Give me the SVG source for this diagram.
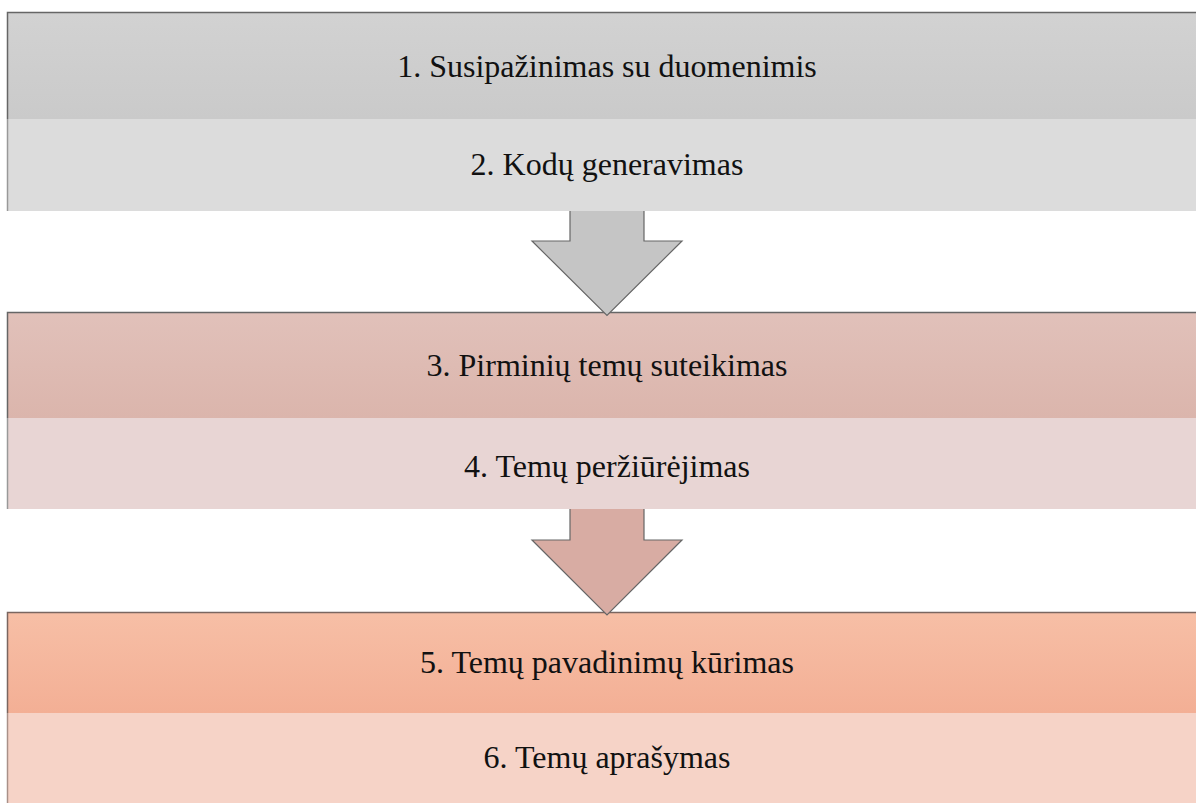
<svg xmlns="http://www.w3.org/2000/svg" width="1196" height="803" viewBox="0 0 1196 803">
<defs>
<linearGradient id="g1" x1="0" y1="0" x2="0" y2="1"><stop offset="0" stop-color="#d2d2d2"/><stop offset="1" stop-color="#cacaca"/></linearGradient>
<linearGradient id="g3" x1="0" y1="0" x2="0" y2="1"><stop offset="0" stop-color="#e1c1ba"/><stop offset="1" stop-color="#dbb5ac"/></linearGradient>
<linearGradient id="g5" x1="0" y1="0" x2="0" y2="1"><stop offset="0" stop-color="#f7bfa6"/><stop offset="1" stop-color="#f3af95"/></linearGradient>
</defs>
<style>
text{font-family:"Liberation Serif","Times New Roman",serif;font-size:32px;fill:#111;text-anchor:middle}
.edge{stroke:#666;stroke-width:1.5;fill:none}
.edgeL{stroke:#999;stroke-width:1.5;fill:none}
.arrow{stroke:#666;stroke-width:1.2;stroke-linejoin:miter}
</style>
<rect width="1196" height="803" fill="#fff"/>
<g id="node1">
<rect x="7" y="12" width="1189" height="107" fill="url(#g1)"/>
<path class="edge" d="M7.5,119 V12.5 H1196"/>
<text x="607" y="77">1. Susipažinimas su duomenimis</text>
</g>
<g id="node2">
<rect x="7" y="119" width="1189" height="92" fill="#dcdcdc"/>
<path class="edgeL" d="M7.5,119 V211"/>
<text x="607" y="175">2. Kodų generavimas</text>
</g>
<g id="node3">
<rect x="7" y="312" width="1189" height="106" fill="url(#g3)"/>
<path class="edge" d="M7.5,418 V312.5 H1196"/>
<text x="607" y="376">3. Pirminių temų suteikimas</text>
</g>
<g id="node4">
<rect x="7" y="418" width="1189" height="91" fill="#e8d5d4"/>
<path class="edgeL" d="M7.5,418 V509"/>
<text x="607" y="477">4. Temų peržiūrėjimas</text>
</g>
<g id="node5">
<rect x="7" y="612" width="1189" height="101" fill="url(#g5)"/>
<path class="edge" d="M7.5,713 V612.5 H1196" style="stroke:#7a6660"/>
<text x="607" y="673">5. Temų pavadinimų kūrimas</text>
</g>
<g id="node6">
<rect x="7" y="713" width="1189" height="90" fill="#f6d3c7"/>
<path class="edgeL" d="M7.5,713 V803" style="stroke:#a89088"/>
<text x="607" y="768">6. Temų aprašymas</text>
</g>
<g id="connectors">
<path class="arrow" fill="#c5c5c5" d="M570,211 V241 H532 L607,315.5 L682,241 H644 V211"/>
<path class="arrow" fill="#d8aca3" d="M570,509 V540 H532 L607,615 L682,540 H644 V509"/>
</g>
</svg>
